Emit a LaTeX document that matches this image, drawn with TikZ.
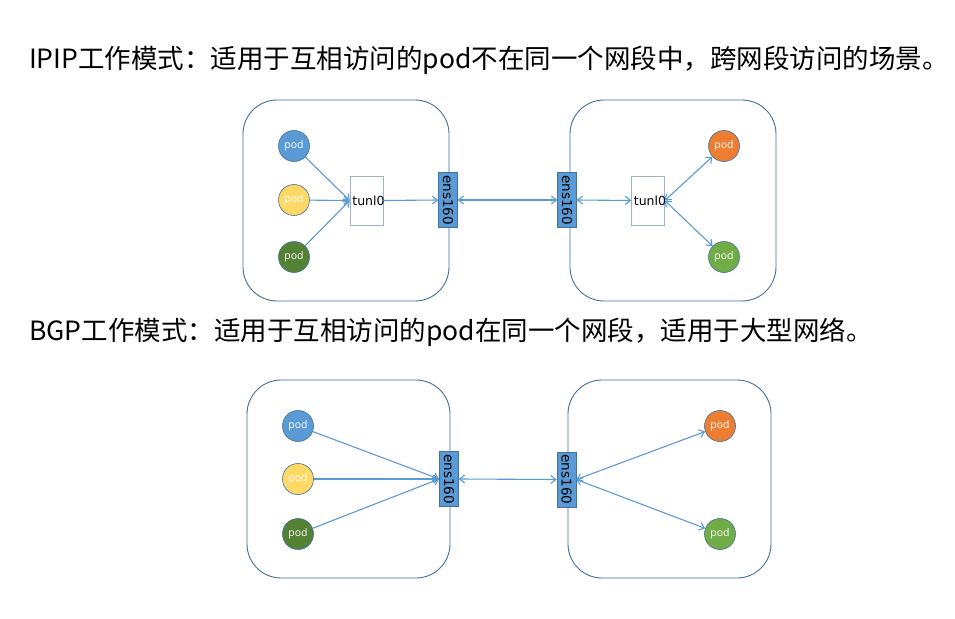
\documentclass[tikz,border=0pt]{standalone}
\usepackage{fontspec}
\setmainfont{DejaVu Sans}
\newfontfamily\cjk{Noto Sans CJK SC}
\newfontfamily\podfont{Open Sans}
\usetikzlibrary{arrows.meta}
\definecolor{podblue}{HTML}{5B9BD5}
\definecolor{podyellow}{HTML}{FFD966}
\definecolor{poddkgreen}{HTML}{548235}
\definecolor{podorange}{HTML}{ED7D31}
\definecolor{podltgreen}{HTML}{70AD47}
\definecolor{edgeblue}{HTML}{41719C}
\definecolor{arrowblue}{HTML}{5B9BD5}
\definecolor{tunedge}{HTML}{9DB3CC}
\tikzset{
  hostbox/.style={draw=edgeblue, line width=0.9pt, rounded corners=34pt},
  pod/.style={circle, draw=edgeblue, line width=0.6pt, minimum size=31pt, inner sep=0pt, text=white, font=\podfont\fontsize{10.5}{10.5}\selectfont},
  ens/.style={draw=edgeblue, fill=podblue, line width=0.6pt, minimum width=19pt, minimum height=55pt, inner sep=0pt},
  enslabel/.style={rotate=-90, inner sep=0pt, font=\fontsize{13.5}{13.5}\selectfont},
  tun/.style={draw=tunedge, fill=white, line width=0.6pt, minimum width=33pt, minimum height=49pt, inner sep=0pt},
  tunlabel/.style={inner sep=0pt, font=\fontsize{12.5}{12.5}\selectfont},
  link/.style={draw=arrowblue, line width=1.1pt},
  tip/.style={-{Straight Barb[length=5pt,width=8pt]}},
  dtip/.style={{Straight Barb[length=5pt,width=8pt]}-{Straight Barb[length=5pt,width=8pt]}},
  title/.style={anchor=west, inner sep=0pt, font=\cjk\fontsize{26.5}{27}\selectfont}
}
\begin{document}
\begin{tikzpicture}[x=1pt,y=-1pt]
\useasboundingbox (0,0) rectangle (955,618);
\fill[white] (0,0) rectangle (955,618);
% titles
\node[title] (t1) at (29,60) {IPIP工作模式：适用于互相访问的pod不在同一个网段中，跨网段访问的场景。};
\node[title] (t2) at (29,332) {BGP工作模式：适用于互相访问的pod在同一个网段，适用于大型网络。};
% ---------- top ----------
\draw[hostbox] (243,100) rectangle (449,301);
\draw[hostbox] (570,100) rectangle (776,301);
\node[pod, fill=podblue] (a1) at (294,146) {pod};
\node[pod, fill=podyellow] (a2) at (294,200) {pod};
\node[pod, fill=poddkgreen] (a3) at (294,257) {pod};
\node[tun] (at) at (366.5,200.5) {};
\node[tunlabel, xshift=2pt] at (at) {tunl0};
\node[ens] (ae) at (448,200) {};
\node[enslabel] at (ae) {ens160};
\node[ens] (be) at (567,200) {};
\node[enslabel] at (be) {ens160};
\node[tun] (bt) at (648,200.5) {};
\node[tunlabel, xshift=2pt] at (bt) {tunl0};
\node[pod, fill=podorange] (b1) at (724,146) {pod};
\node[pod, fill=podltgreen] (b2) at (724,257) {pod};
\draw[link,tip] (a1) -- (at.west);
\draw[link,tip] (a2) -- (at.west);
\draw[link,tip] (a3) -- (at.west);
\draw[link,tip] (at.east) -- (ae.west);
\draw[link,dtip] (ae.east) -- (be.west);
\draw[link,dtip] (be.east) -- (bt.west);
\draw[link,dtip] (bt.east) -- (b1);
\draw[link,dtip] (bt.east) -- (b2);
% ---------- bottom ----------
\draw[hostbox] (247,380) rectangle (450,578);
\draw[hostbox] (568,380) rectangle (771,578);
\node[pod, fill=podblue] (c1) at (298,426) {pod};
\node[pod, fill=podyellow] (c2) at (298,479) {pod};
\node[pod, fill=poddkgreen] (c3) at (298,534) {pod};
\node[ens] (ce) at (449,479) {};
\node[enslabel] at (ce) {ens160};
\node[ens] (de) at (566.5,479.5) {};
\node[enslabel] at (de) {ens160};
\node[pod, fill=podorange] (d1) at (720,426) {pod};
\node[pod, fill=podltgreen] (d2) at (720,534) {pod};
\draw[link,tip] (c1) -- (ce.west);
\draw[link,tip] (c2) -- (ce.west);
\draw[link,tip] (c3) -- (ce.west);
\draw[link,dtip] (ce.east) -- (de.west);
\draw[link,dtip] (de.east) -- (d1);
\draw[link,dtip] (de.east) -- (d2);
\end{tikzpicture}
\end{document}
